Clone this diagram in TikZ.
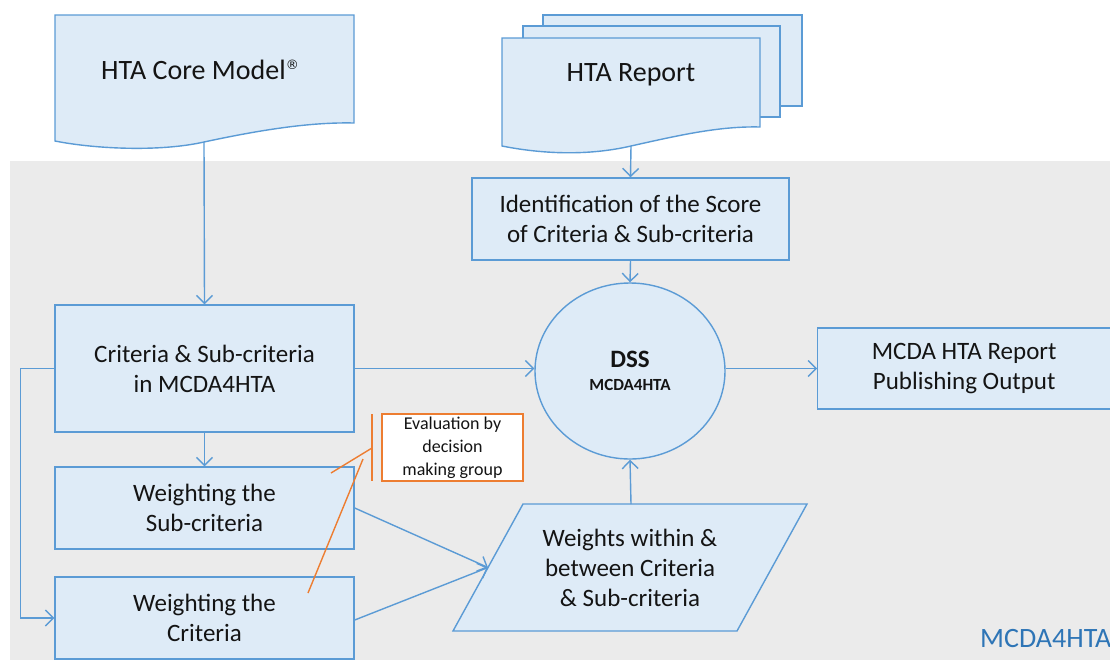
\documentclass[tikz,border=0pt]{standalone}
\usepackage{fontspec}
\setmainfont{Carlito}
\newfontfamily\markfont{DejaVu Sans}
\usetikzlibrary{arrows.meta,shapes.geometric,positioning}
\definecolor{boxfill}{HTML}{DEEBF7}
\definecolor{boxline}{HTML}{5B9BD5}
\definecolor{panel}{HTML}{EBEBEB}
\definecolor{callout}{HTML}{ED7D31}
\definecolor{ink}{HTML}{141414}
\definecolor{tagblue}{HTML}{2E75B6}
\tikzset{
  flow/.style={draw=boxline, line width=1.4pt},
  shapebox/.style={flow, fill=boxfill},
  procbox/.style={shapebox, rectangle, inner sep=0pt, align=center,
    text=ink, font=\fontsize{25}{30}\selectfont},
  plain/.style={inner sep=0pt, align=center, text=ink},
  link/.style={flow, -{Straight Barb[length=8pt,width=16pt,line width=1.4pt]}},
  note/.style={draw=callout, line width=1.4pt},
}
\begin{document}
\begin{tikzpicture}[x=1pt,y=-1pt]
\useasboundingbox (0,0) rectangle (1110,659);
\clip (0,0) rectangle (1110,659);

% grey working area of the tool
\fill[panel] (10,161) rectangle (1120,670);
\node[text=tagblue, anchor=base west, inner sep=0pt,
      font=\fontsize{28}{30}\selectfont] (tag) at (980,647) {MCDA4HTA};

% HTA Core Model document
\draw[shapebox] (55,15) -- (354,15) -- (354,123)
  .. controls (310,122) and (260,130) .. (204,142)
  .. controls (160,152) and (95,149) .. (55,141) -- cycle;
\node[plain, font=\fontsize{28}{32}\selectfont] (core) at (200,70)
  {HTA Core Model\raisebox{10pt}{\markfont\fontsize{13}{13}\selectfont ®}};
\coordinate (coreout) at (204,142);

% HTA Report: stack of documents
\draw[shapebox] (543,15) rectangle (802,106);
\draw[shapebox] (523,26) rectangle (780,117);
\draw[shapebox] (502,38) -- (760,38) -- (760,127)
  .. controls (720,126) and (680,135) .. (631,146)
  .. controls (588,156) and (542,154) .. (502,146) -- cycle;
\node[plain, font=\fontsize{28}{32}\selectfont] (report) at (631,75) {HTA Report};
\coordinate (reportout) at (631,146);

% process boxes
\node[procbox, minimum width=317pt, minimum height=82pt] (ident) at (630.5,219)
  {Identification of the Score\\of Criteria \& Sub-criteria};
\node[procbox, minimum width=299pt, minimum height=127pt] (crit) at (204.5,368.5)
  {Criteria \& Sub-criteria\\in MCDA4HTA};
\node[procbox, minimum width=299pt, minimum height=82pt] (wsub) at (204.5,508)
  {Weighting the\\Sub-criteria};
\node[procbox, minimum width=299pt, minimum height=82pt] (wcrit) at (204.5,618)
  {Weighting the\\Criteria};
\node[procbox, minimum width=320pt, minimum height=81pt, anchor=west] (out) at (817,368.5)
  {\hspace*{-27pt}MCDA HTA Report\\\hspace*{-27pt}Publishing Output};

% decision support system
\node[shapebox, ellipse, minimum width=190pt, minimum height=176pt, inner sep=0pt,
      align=center, text=ink, font=\fontsize{25}{26}\selectfont\bfseries] (dss) at (630,371)
  {DSS\\[-3pt]{\fontsize{17}{20}\selectfont MCDA4HTA}};

% weights (data parallelogram)
\draw[shapebox] (523,504) -- (807,504) -- (737,631) -- (453,631) -- cycle;
\node[plain, font=\fontsize{25}{30}\selectfont] (weights) at (630,568)
  {Weights within \&\\between Criteria\\\& Sub-criteria};
\coordinate (wtop) at (631,504);
\coordinate (wleft) at (488,567.5);

% connectors
\draw[link] (coreout) -- (crit.north);
\draw[link] (reportout) -- (ident.north);
\draw[link] (ident.south) -- (dss.north);
\draw[link] (crit.east) -- (dss.west |- crit.east);
\draw[link] (dss.east |- out.west) -- (out.west);
\draw[link] (crit.south) -- (wsub.north);
\draw[link] (crit.west) -- ([xshift=-34pt]crit.west) |- (wcrit.west);
\draw[link] (wsub.east) -- (wleft);
\draw[link] ([yshift=-2pt]wcrit.east) -- (wleft);
\draw[link] (wtop) -- (dss.south);

% callout: evaluation by the decision making group
\node[note, fill=white, minimum width=141pt, minimum height=67pt, inner sep=0pt,
      align=center, text=ink, font=\fontsize{18}{23}\selectfont] (eval) at (452.5,447.5)
  {Evaluation by\\decision\\making group};
\coordinate (brtop) at (372,414);
\coordinate (brbot) at (372,481);
\coordinate (brmid) at (372,448);
\coordinate (lead1) at (331,473);
\coordinate (lead2a) at (363,459);
\coordinate (lead2b) at (308,593);
\draw[note] (brtop) -- (brbot);
\draw[note] (brmid) -- (lead1);
\draw[note] (lead2a) -- (lead2b);
\end{tikzpicture}
\end{document}
